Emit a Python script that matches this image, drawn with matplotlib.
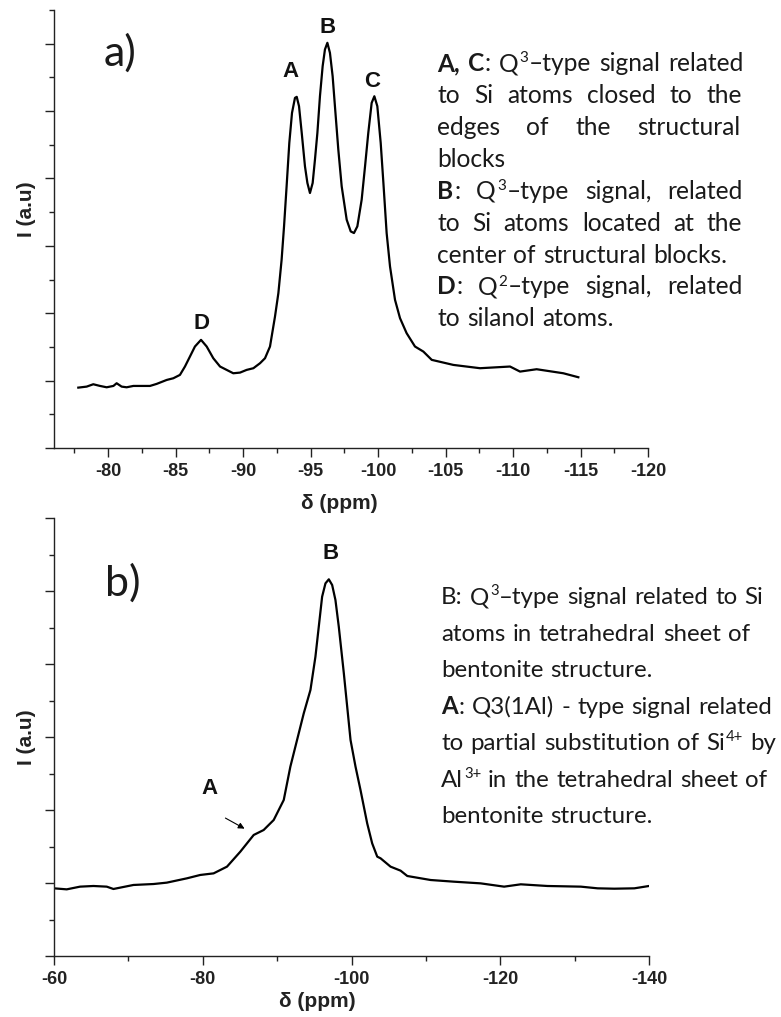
import re
import matplotlib
matplotlib.use('Agg')
import matplotlib.pyplot as plt
from matplotlib.ticker import MultipleLocator

# 29Si NMR spectra (ppm, intensity in a.u.)
A_PPM = [-77.80, -78.42, -78.91, -79.41, -79.90, -80.40, -80.64, -81.01, -81.38, -81.88,
         -83.11, -83.60, -84.35, -84.84, -85.33, -85.70, -86.07, -86.44, -86.89, -87.31,
         -87.80, -88.30, -88.79, -89.28, -89.78, -90.27, -90.77, -91.26, -91.63, -92.00,
         -92.37, -92.62, -92.86, -93.04, -93.23, -93.43, -93.63, -93.85, -93.98, -94.15,
         -94.35, -94.59, -94.77, -94.96, -95.16, -95.33, -95.51, -95.70, -95.90, -96.07,
         -96.25, -96.44, -96.64, -96.81, -97.06, -97.31, -97.68, -97.98, -98.22, -98.47,
         -98.79, -99.04, -99.28, -99.53, -99.73, -99.95, -100.20, -100.40, -100.64, -100.89,
         -101.26, -101.63, -102.12, -102.74, -103.36, -103.98, -105.58, -107.56, -109.78, -110.52,
         -111.75, -113.73, -114.84]
A_INT = [0.896, 0.911, 0.946, 0.921, 0.901, 0.921, 0.961, 0.911, 0.901, 0.921,
         0.921, 0.951, 1.010, 1.035, 1.085, 1.209, 1.357, 1.506, 1.605, 1.506,
         1.332, 1.209, 1.159, 1.109, 1.119, 1.159, 1.184, 1.258, 1.332, 1.506,
         1.951, 2.298, 2.793, 3.289, 3.883, 4.527, 4.973, 5.196, 5.211, 5.072,
         4.676, 4.180, 3.933, 3.784, 3.933, 4.279, 4.676, 5.220, 5.666, 5.914,
         6.013, 5.864, 5.517, 5.072, 4.428, 3.883, 3.388, 3.214, 3.190, 3.289,
         3.685, 4.180, 4.676, 5.121, 5.220, 5.072, 4.527, 3.933, 3.190, 2.694,
         2.199, 1.927, 1.704, 1.506, 1.431, 1.308, 1.233, 1.184, 1.209, 1.134,
         1.169, 1.109, 1.050]

B_PPM = [-60.00, -61.71, -63.50, -65.30, -67.09, -67.99, -70.68, -73.38, -75.17, -77.87,
         -79.66, -81.46, -83.26, -85.05, -86.85, -88.19, -89.54, -90.89, -91.78, -92.68,
         -93.58, -94.48, -95.15, -95.60, -96.05, -96.50, -96.95, -97.40, -97.84, -98.29,
         -98.97, -99.42, -99.87, -100.54, -101.21, -102.11, -102.78, -103.46, -103.91, -105.25,
         -106.60, -107.50, -110.64, -113.78, -117.37, -120.52, -122.76, -126.35, -130.84, -133.09,
         -135.33, -138.03, -140.00]
B_INT = [0.927, 0.913, 0.950, 0.959, 0.950, 0.918, 0.973, 0.986, 1.005, 1.064,
         1.110, 1.132, 1.224, 1.429, 1.658, 1.726, 1.863, 2.137, 2.594, 2.959,
         3.324, 3.644, 4.100, 4.511, 4.922, 5.105, 5.160, 5.082, 4.877, 4.511,
         3.872, 3.416, 2.959, 2.594, 2.274, 1.817, 1.543, 1.361, 1.338, 1.224,
         1.169, 1.096, 1.041, 1.018, 0.995, 0.950, 0.982, 0.959, 0.950, 0.927,
         0.922, 0.927, 0.959]

A_TICKS = [-80, -85, -90, -95, -100, -105, -110, -115, -120]
B_TICKS = [-60, -80, -100, -120, -140]

# notes (** = bold, ^ = superscript)
NOTE_A = ["**A,** **C**: Q^3^–type signal related",
          "to Si atoms closed to the",
          "edges of the structural",
          "blocks",
          "**B**: Q^3^–type signal, related",
          "to Si atoms located at the",
          "center of structural blocks.",
          "**D**: Q^2^–type signal, related",
          "to silanol atoms."]
JUSTIFY_A = [1, 1, 1, 0, 1, 1, 0, 1, 0]

NOTE_B = ["B: Q^3^–type signal related to Si",
          "atoms in tetrahedral sheet of",
          "bentonite structure.",
          "**A**: Q3(1Al) - type signal related",
          "to partial substitution of Si^4+^ by",
          "Al^3+^ in the tetrahedral sheet of",
          "bentonite structure."]

plt.rcParams['axes.unicode_minus'] = False
plt.rcParams['font.family'] = ['Liberation Sans', 'DejaVu Sans']
plt.rcParams['font.weight'] = 'bold'
plt.rcParams['axes.labelweight'] = 'bold'

W, H = 781, 1017
fig = plt.figure(figsize=(W / 100, H / 100), dpi=100)
renderer = fig.canvas.get_renderer()
TEXT_C = '#1a1a1a'


def style_axis(ax, ticks, minor):
    for s in ['top', 'right']:
        ax.spines[s].set_visible(False)
    for s in ['left', 'bottom']:
        ax.spines[s].set_linewidth(1.0)
        ax.spines[s].set_color('#222222')
    ax.set_xticks(ticks, labels=[str(t) for t in ticks], fontweight='bold', fontsize=13,
                  color='#222222')
    ax.xaxis.set_minor_locator(MultipleLocator(minor))
    ax.tick_params(which='major', direction='out', length=6.5, width=1.0, pad=4, color='#222222')
    ax.tick_params(which='minor', direction='out', length=3.6, width=1.0, color='#222222')
    ax.tick_params(axis='y', labelleft=False)
    ax.yaxis.set_major_locator(MultipleLocator(1))
    ax.yaxis.set_minor_locator(MultipleLocator(0.5))


# panel a
ax_a = fig.add_axes([54 / W, 1 - 448 / H, 594 / W, 438 / H])
ax_a.plot(A_PPM, A_INT, color='black', lw=1.6)
style_axis(ax_a, A_TICKS, 2.5)
ax_a.set_xlim(-76, -120)
ax_a.set_ylim(0, 6.5)
ax_a.set_xlabel('δ (ppm)', fontsize=15, fontweight='bold', color='#222222')
ax_a.xaxis.set_label_coords(0.481, -0.105)
ax_a.set_ylabel('I (a.u)', fontsize=15, fontweight='bold', color='#222222')
ax_a.yaxis.set_label_coords(-0.03, 0.545)
for lab, x, y in [('A', -93.5, 5.59), ('B', -96.3, 6.24), ('C', -99.6, 5.44), ('D', -86.9, 1.85)]:
    ax_a.text(x, y, lab, fontsize=16, fontweight='bold', ha='center', va='center',
              clip_on=False, color='#111111')

# panel b
ax_b = fig.add_axes([54 / W, 1 - 956 / H, 595 / W, 438 / H])
ax_b.plot(B_PPM, B_INT, color='black', lw=1.6)
style_axis(ax_b, B_TICKS, 10)
ax_b.set_xlim(-60, -140)
ax_b.set_ylim(0, 6)
ax_b.set_xlabel('δ (ppm)', fontsize=15, fontweight='bold', color='#222222')
ax_b.xaxis.set_label_coords(0.442, -0.083)
ax_b.set_ylabel('I (a.u)', fontsize=15, fontweight='bold', color='#222222')
ax_b.yaxis.set_label_coords(-0.03, 0.5)
ax_b.text(-97.17, 5.516, 'B', fontsize=16, fontweight='bold', ha='center', va='center',
          color='#111111')
ax_b.text(-80.88, 2.297, 'A', fontsize=16, fontweight='bold', ha='center', va='center',
          color='#111111')
ax_b.annotate('', xy=(-85.95, 1.726), xytext=(-82.72, 1.908),
              arrowprops=dict(arrowstyle='-|>', lw=0.8, color='black', mutation_scale=9))

fig.text(120 / W, 1 - 53 / H, 'a)', fontsize=31, family='Lato', fontweight='normal',
         ha='center', va='center', color=TEXT_C)
fig.text(123 / W, 1 - 583 / H, 'b)', fontsize=31, family='Lato', fontweight='normal',
         ha='center', va='center', color=TEXT_C)


def parse_word(word):
    segs = []
    for part in re.split(r'(\*\*.+?\*\*|\^.+?\^)', word):
        if not part:
            continue
        if part.startswith('**'):
            segs.append((part[2:-2], 'bold'))
        elif part.startswith('^'):
            segs.append((part[1:-1], 'sup'))
        else:
            segs.append((part, 'normal'))
    return segs


def seg_width(text, kind, size):
    fs = size * 0.62 if kind == 'sup' else size
    t = fig.text(0, 0, text, fontsize=fs, family='Lato',
                 fontweight='bold' if kind == 'bold' else 'normal')
    w = t.get_window_extent(renderer).width
    t.remove()
    return w


def line_width(line, size):
    words = [parse_word(w) for w in line.split(' ')]
    sp = seg_width('n n', 'normal', size) - seg_width('nn', 'normal', size)
    return sum(seg_width(t, k, size) for segs in words for t, k in segs) + sp * (len(words) - 1)


def draw_note(lines, justify, x0, width, yc0, dy, size):
    em = size * 100 / 72
    sp = seg_width('n n', 'normal', size) - seg_width('nn', 'normal', size)
    for i, line in enumerate(lines):
        words = [parse_word(w) for w in line.split(' ')]
        widths = [[seg_width(t, k, size) for t, k in segs] for segs in words]
        total = sum(sum(ws) for ws in widths)
        gap = sp
        if justify[i] and len(words) > 1:
            gap = (width - total) / (len(words) - 1)
        base = yc0 + i * dy + 0.25 * em
        x = x0
        for segs, ws in zip(words, widths):
            for (t, k), w in zip(segs, ws):
                fs = size * 0.62 if k == 'sup' else size
                yy = base - (0.36 * em if k == 'sup' else 0)
                fig.text(x / W, 1 - yy / H, t, fontsize=fs, family='Lato',
                         fontweight='bold' if k == 'bold' else 'normal',
                         ha='left', va='baseline', color=TEXT_C)
                x += w + (1 if k != 'sup' else 0.5)
            x += gap


size_a = 10 * 288 / line_width(NOTE_A[6], 10)
size_b = 10 * 329 / line_width(NOTE_B[4], 10)
draw_note(NOTE_A, JUSTIFY_A, 437, 300, 65, 31.9, size_a)
draw_note(NOTE_B, [0] * len(NOTE_B), 441, 330, 598, 36.5, size_b)

fig.savefig('out.png', dpi=100)
